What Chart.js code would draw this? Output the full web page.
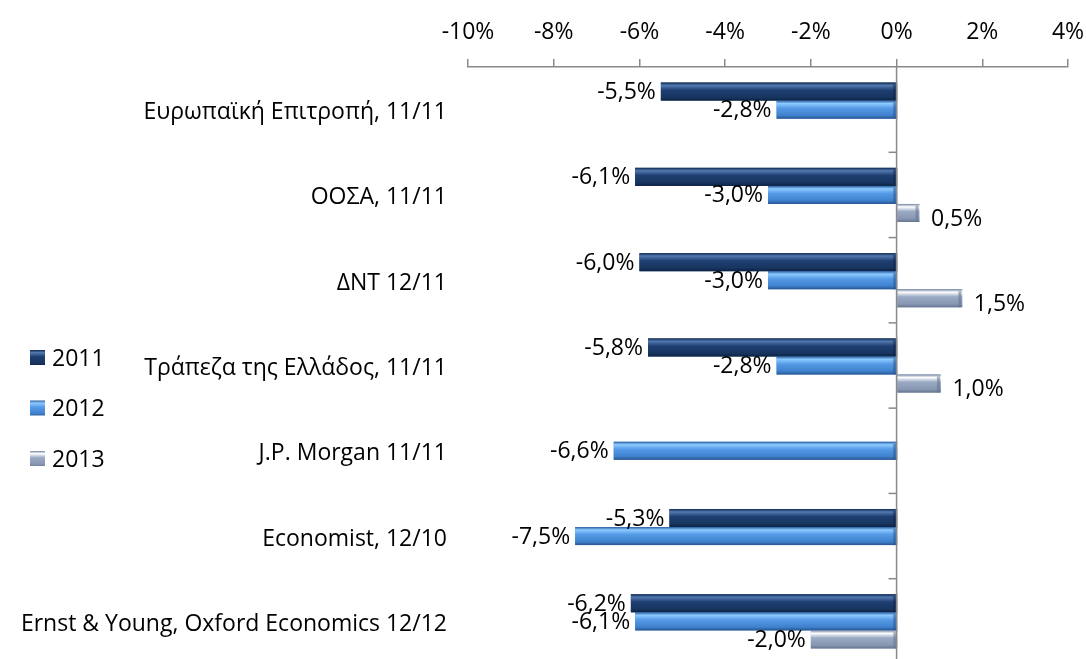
<!DOCTYPE html>
<html>
<head>
<meta charset="utf-8">
<script src="https://cdn.jsdelivr.net/npm/chart.js@4.4.1/dist/chart.umd.min.js"></script>
<style>
  html, body { margin: 0; padding: 0; background: #fff; overflow: hidden; }
  #wrap { width: 1086px; height: 659px; overflow: hidden; position: relative; }
  #wrap .box { width: 1086px; height: 670px; position: absolute; left: 0; top: 0; }
</style>
</head>
<body>
<div id="wrap"><div class="box"><canvas id="chart"></canvas></div></div>
<script>
const categories = [
    'Ευρωπαϊκή Επιτροπή, 11/11',
    'ΟΟΣΑ, 11/11',
    'ΔΝΤ 12/11',
    'Τράπεζα της Ελλάδος, 11/11',
    'J.P. Morgan 11/11',
    'Economist, 12/10',
    'Ernst & Young, Oxford Economics 12/12'
]
const seriesNames = ['2011', '2012', '2013']
const values2011 = [-5.5, -6.1, -6.0, -5.8, null, -5.3, -6.2]
const values2012 = [-2.8, -3.0, -3.0, -2.8, -6.6, -7.5, -6.1]
const values2013 = [null, 0.5, 1.5, 1.0, null, null, -2.0]
const axisMin = -10
const axisMax = 4
const axisStep = 2

const FONT = "'Open Sans', 'Noto Sans', sans-serif"
const FONT_SIZE = 23
const AXIS_GRAY = '#898989'

// bevel look: top edge, highlight, body, lower body, bottom edge
const bevels = [
    ['#0f2a52', '#5279b0', '#1f3f72', '#17355f', '#0b2245'],
    ['#2a5d9e', '#8ccaff', '#559ae6', '#3f80cd', '#27548c'],
    ['#7486a4', '#ffffff', '#9aaac4', '#8797b3', '#65748e']
]
const baseColors = ['#1f3f72', '#4f94e2', '#8b9bb8']

function fmt(v) {
    return v.toFixed(1).replace('.', ',') + '%'
}

function bevelFill(ctx, stops, top, bottom) {
    const g = ctx.createLinearGradient(0, top, 0, bottom)
    g.addColorStop(0, stops[0])
    g.addColorStop(0.16, stops[1])
    g.addColorStop(0.42, stops[2])
    g.addColorStop(0.82, stops[3])
    g.addColorStop(1, stops[4])
    return g
}

const bevelBars = {
    id: 'bevelBars',
    afterDatasetsDraw(chart) {
        const ctx = chart.ctx
        const xScale = chart.scales.x
        const yScale = chart.scales.y
        const zeroX = xScale.getPixelForValue(0)

        ctx.save()
        chart.data.datasets.forEach((ds, di) => {
            const meta = chart.getDatasetMeta(di)
            meta.data.forEach((bar, i) => {
                const v = ds.data[i]
                if (v === null || v === undefined) return
                const top = bar.y - bar.height / 2
                const bottom = bar.y + bar.height / 2
                const left = Math.min(bar.x, bar.base)
                const right = Math.max(bar.x, bar.base) + 1.5
                ctx.fillStyle = bevelFill(ctx, bevels[di], top, bottom)
                ctx.fillRect(left, top, right - left, bottom - top)
                // darker cap at the zero end
                ctx.fillStyle = bevels[di][4]
                ctx.globalAlpha = 0.55
                ctx.fillRect(right - 4, top + 2, 3, bottom - top - 2)
                ctx.globalAlpha = 1
            })
        })

        // zero line drawn over the bars
        ctx.strokeStyle = AXIS_GRAY
        ctx.lineWidth = 1.5
        ctx.beginPath()
        ctx.moveTo(zeroX, chart.chartArea.top)
        ctx.lineTo(zeroX, chart.chartArea.bottom)
        ctx.stroke()

        // category tick marks along the zero line
        for (let i = 1; i < categories.length; i++) {
            const y = (yScale.getPixelForValue(i - 1) + yScale.getPixelForValue(i)) / 2
            ctx.beginPath()
            ctx.moveTo(zeroX - 8, y)
            ctx.lineTo(zeroX, y)
            ctx.stroke()
        }

        // value labels
        ctx.font = FONT_SIZE + 'px ' + FONT
        ctx.fillStyle = '#000'
        ctx.textBaseline = 'middle'
        chart.data.datasets.forEach((ds, di) => {
            const meta = chart.getDatasetMeta(di)
            meta.data.forEach((bar, i) => {
                const v = ds.data[i]
                if (v === null || v === undefined) return
                if (v < 0) {
                    ctx.textAlign = 'right'
                    ctx.fillText(fmt(v), bar.x - 5, bar.y + 1)
                } else {
                    ctx.textAlign = 'left'
                    ctx.fillText(fmt(v), bar.x + 13, bar.y + 6)
                }
            })
        })

        // legend, floating on the left
        ctx.textAlign = 'left'
        seriesNames.forEach((name, di) => {
            const cy = 358 + di * 50.5
            ctx.fillStyle = bevelFill(ctx, bevels[di], cy - 8, cy + 8)
            ctx.fillRect(30, cy - 8, 15, 15)
            ctx.fillStyle = '#000'
            ctx.fillText(name, 52, cy + 1)
        })
        ctx.restore()
    }
}

const datasets = [values2011, values2012, values2013].map((vals, i) => ({
    label: seriesNames[i],
    data: vals,
    backgroundColor: baseColors[i],
    borderWidth: 0,
    barPercentage: 1,
    categoryPercentage: 0.635
}))

new Chart(document.getElementById('chart'), {
    type: 'bar',
    data: { labels: categories, datasets: datasets },
    plugins: [bevelBars],
    options: {
        indexAxis: 'y',
        responsive: true,
        maintainAspectRatio: false,
        animation: false,
        layout: { padding: { top: 18, right: 18, bottom: 6, left: 0 } },
        plugins: {
            legend: { display: false },
            tooltip: { enabled: false }
        },
        scales: {
            x: {
                position: 'top',
                min: axisMin,
                max: axisMax,
                ticks: {
                    stepSize: axisStep,
                    padding: 13,
                    color: '#000',
                    font: { family: FONT, size: FONT_SIZE },
                    callback: v => v + '%'
                },
                grid: {
                    color: 'transparent',
                    tickColor: AXIS_GRAY,
                    tickLength: 8,
                    lineWidth: 1.5
                },
                border: { color: AXIS_GRAY, width: 1.5 },
                afterFit: s => {
                    s.height = 49
                    s.paddingLeft = 0
                    s.paddingRight = 0
                }
            },
            y: {
                ticks: {
                    color: '#000',
                    padding: 21,
                    labelOffset: 3,
                    font: { family: FONT, size: FONT_SIZE }
                },
                grid: { display: false, drawTicks: false },
                border: { display: false },
                afterFit: s => {
                    s.width = 468
                    s.paddingTop = 0
                    s.paddingBottom = 0
                }
            }
        }
    }
})
</script>
</body>
</html>
